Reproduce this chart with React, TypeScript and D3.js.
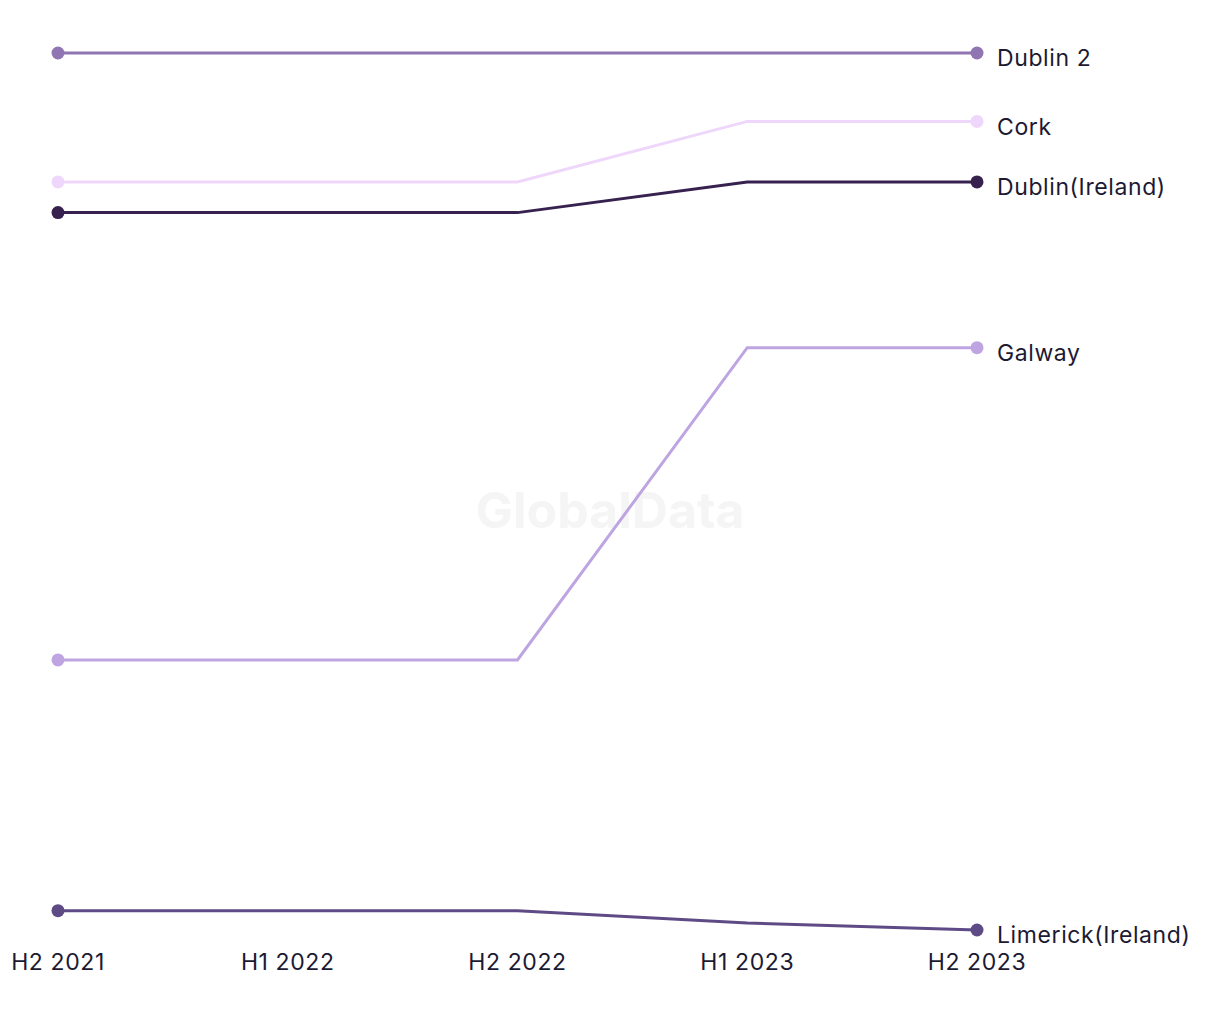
import React from "react";
import * as d3 from "d3";

const periods = ["H2 2021", "H1 2022", "H2 2022", "H1 2023", "H2 2023"];
const seriesNames = ["Dublin 2", "Cork", "Dublin(Ireland)", "Galway", "Limerick(Ireland)"];
const dublin2 = [100, 100, 100, 100, 100];
const cork = [85.3, 85.3, 85.3, 92.2, 92.2];
const dublinIreland = [81.8, 81.8, 81.8, 85.3, 85.3];
const galway = [30.8, 30.8, 30.8, 66.4, 66.4];
const limerick = [2.2, 2.2, 2.2, 0.8, 0];
const colors = ["#8f76b3", "#efd7fb", "#37214f", "#bea5e2", "#5e4a85"];

const seriesValues = [dublin2, cork, dublinIreland, galway, limerick];

export default function App() {
  const width = 1220;
  const height = 1020;
  const x = d3.scalePoint<string>().domain(periods).range([58, 977]);
  const y = d3.scaleLinear().domain([0, 100]).range([930, 53]);
  const line = d3
    .line<number>()
    .x((_, i) => x(periods[i]) as number)
    .y((d) => y(d));
  const font = "Inter, 'Noto Sans', sans-serif";
  return (
    <svg
      width={width}
      height={height}
      style={{ position: "absolute", left: 0, top: 0, background: "#fff" }}
    >
      <text
        x={610}
        y={528}
        textAnchor="middle"
        fontFamily={font}
        fontWeight={700}
        fontSize={50}
        fill="#f5f5f5"
      >
        GlobalData
      </text>
      {seriesValues.map((vals, si) => {
        const last = vals.length - 1;
        return (
          <g key={seriesNames[si]}>
            <path d={line(vals) || ""} fill="none" stroke={colors[si]} strokeWidth={3} />
            <circle cx={x(periods[0])} cy={y(vals[0])} r={6.5} fill={colors[si]} />
            <circle cx={x(periods[last])} cy={y(vals[last])} r={6.5} fill={colors[si]} />
            <text
              x={(x(periods[last]) as number) + 20}
              y={y(vals[last]) + 7}
              dominantBaseline="middle"
              fontFamily={font}
              fontSize={23}
              letterSpacing={0.6}
              fill="#1c1a33"
            >
              {seriesNames[si]}
            </text>
          </g>
        );
      })}
      {periods.map((p) => (
        <text
          key={p}
          x={x(p)}
          y={970}
          textAnchor="middle"
          fontFamily={font}
          fontSize={23}
          letterSpacing={0.6}
          fill="#1c1a33"
        >
          {p}
        </text>
      ))}
    </svg>
  );
}
